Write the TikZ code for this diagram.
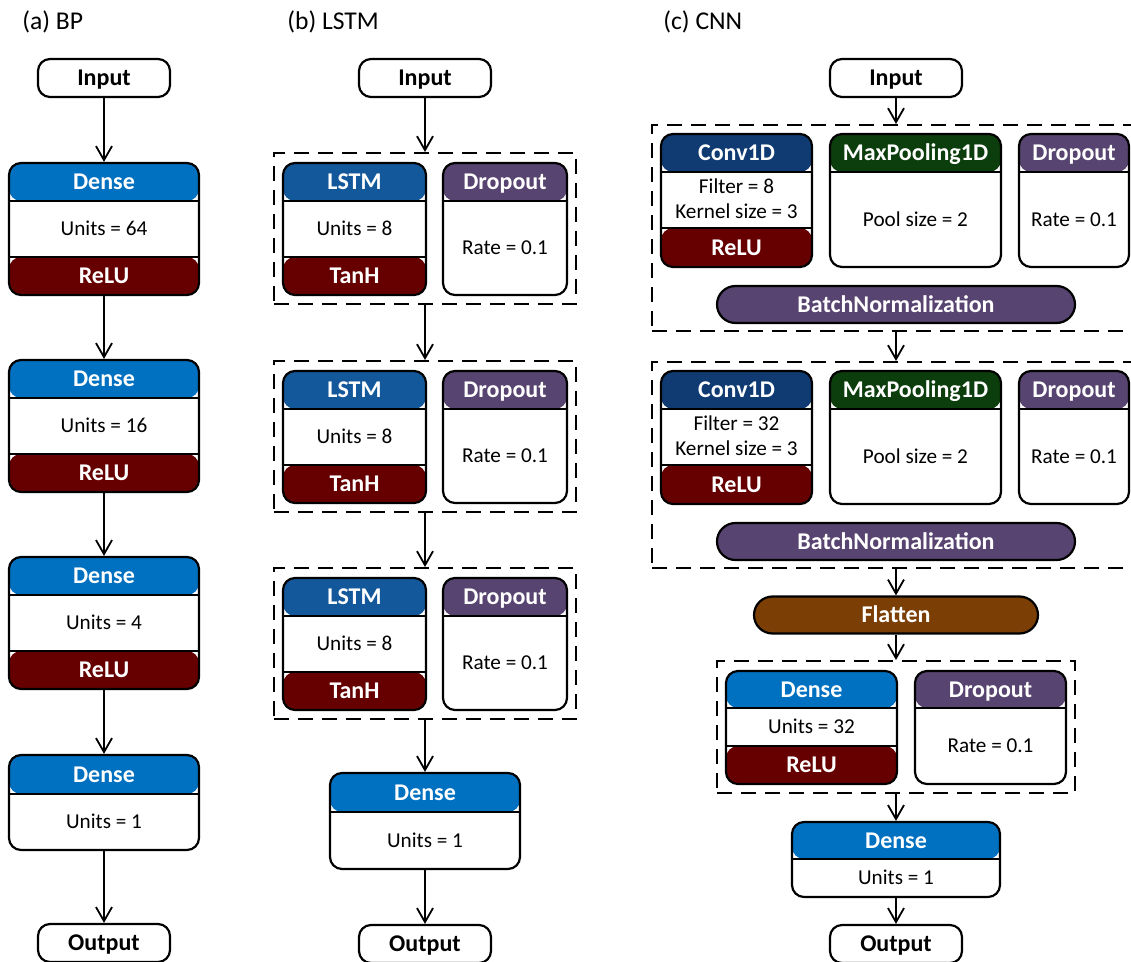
\documentclass[tikz,border=0pt]{standalone}
\usepackage{fontspec}
\setmainfont{Carlito}
\usetikzlibrary{arrows.meta, fit, positioning}

\definecolor{densecol}{HTML}{0070C0}
\definecolor{lstmcol}{HTML}{13589B}
\definecolor{convcol}{HTML}{0F3B72}
\definecolor{actcol}{HTML}{660000}
\definecolor{dropcol}{HTML}{584470}
\definecolor{poolcol}{HTML}{0C3D0C}
\definecolor{flatcol}{HTML}{7B3F06}

\tikzset{
  box/.style={draw, line width=1.1pt, rounded corners=6pt, inner sep=0pt, fill=white},
  bands/.style n args={4}{path picture={
      \fill[#1] (path picture bounding box.north west) rectangle ([yshift=-#2]path picture bounding box.north east);
      \fill[#3] (path picture bounding box.south west) rectangle ([yshift=#4]path picture bounding box.south east);
      \draw[line width=0.8pt] ([yshift=-#2]path picture bounding box.north west) -- ([yshift=-#2]path picture bounding box.north east);
      \draw[line width=0.8pt] ([yshift=#4]path picture bounding box.south west) -- ([yshift=#4]path picture bounding box.south east);}},
  group/.style={draw, line width=1pt, dash pattern=on 7.5pt off 4.5pt, inner sep=0pt},
  head/.style={text=white, font=\bfseries\fontsize{12}{14}\selectfont, inner sep=0pt, text height=7.7pt, text depth=0pt},
  val/.style={inner sep=0pt, text height=6.8pt, text depth=0pt},
  term/.style={box, minimum width=66pt, minimum height=19pt, font=\bfseries\fontsize{12}{14}\selectfont, text height=7.7pt, text depth=0pt},
  pill/.style={draw, line width=1.1pt, rounded corners=9.25pt, minimum height=18.5pt, inner sep=0pt, text=white, font=\bfseries\fontsize{12}{14}\selectfont, text height=7.7pt, text depth=0pt},
  flow/.style={-{Straight Barb[length=7pt,width=8pt]}, line width=0.9pt},
  title/.style={anchor=base west, inner sep=0pt, font=\fontsize{12.8}{15}\selectfont},
}

\begin{document}
\begin{tikzpicture}[x=0.5pt, y=-0.5pt, font=\fontsize{10.6}{13}\selectfont]
\useasboundingbox (0,0) rectangle (1131,962);

% titles
\node[title] (ta) at (22,30) {(a) BP};
\node[title] (tb) at (287,30) {(b) LSTM};
\node[title] (tc) at (663,30) {(c) CNN};

% (a) BP
\node[term] (bpin) at (104,78) {Input};
\foreach \n/\y/\u in {1/163/64, 2/360/16, 3/557/4}{
  \node[box, bands={densecol}{19pt}{actcol}{19pt}, fit={(9,\y) (199,\y+132)}] (bp\n) {};
  \node[head] (bp\n-h) at (104,\y+19) {Dense};
  \node[val] (bp\n-b) at (104,\y+66) {Units = \u};
  \node[head] (bp\n-f) at (104,\y+113) {ReLU};
}
\node[box, bands={densecol}{19.5pt}{white}{0pt}, fit={(9,755) (199,850)}] (bp4) {};
\node[head] (bp4-h) at (104,774.5) {Dense};
\node[val] (bp4-b) at (104,822) {Units = 1};
\node[term] (bpout) at (104,943) {Output};

\foreach \a/\b in {bpin/bp1, bp1/bp2, bp2/bp3, bp3/bp4, bp4/bpout}
  \draw[flow] (\a) -- (\b);

% (b) LSTM
\node[term] (lin) at (425,78) {Input};
\foreach \n/\y in {1/153, 2/361, 3/568}{
  \node[group, fit={(274,\y) (576,\y+151)}] (lg\n) {};
  \node[box, bands={lstmcol}{19pt}{actcol}{19pt}, fit={(283,\y+10) (426,\y+142)}] (lstm\n) {};
  \node[head] (lstm\n-h) at (354.5,\y+29) {LSTM};
  \node[val] (lstm\n-b) at (354.5,\y+76) {Units = 8};
  \node[head] (lstm\n-f) at (354.5,\y+123) {TanH};
  \node[box, bands={dropcol}{19pt}{white}{0pt}, fit={(443,\y+10) (567,\y+142)}] (ldrop\n) {};
  \node[head] (ldrop\n-h) at (505,\y+29) {Dropout};
  \node[val] (ldrop\n-b) at (505,\y+95) {Rate = 0.1};
}
\node[box, bands={densecol}{19.5pt}{white}{0pt}, fit={(330,773) (520,869)}] (ldense) {};
\node[head] (ldense-h) at (425,792.5) {Dense};
\node[val] (ldense-b) at (425,840.5) {Units = 1};
\node[term] (lout) at (425,944) {Output};

\foreach \a/\b in {lin/lg1, lg1/lg2, lg2/lg3, lg3/ldense, ldense/lout}
  \draw[flow] (\a) -- (\b);

% (c) CNN
\node[term] (cin) at (896,78) {Input};
\foreach \n/\y/\f in {1/125/8, 2/362/32}{
  \node[group, fit={(652,\y) (1140,\y+206)}] (cg\n) {};
  \node[box, bands={convcol}{19pt}{actcol}{19.5pt}, fit={(661,\y+9) (812,\y+142)}] (conv\n) {};
  \node[head] (conv\n-h) at (736.5,\y+28) {Conv1D};
  \node[anchor=base, inner sep=0pt] (conv\n-b1) at (736.5,\y+69) {Filter = \f};
  \node[anchor=base, inner sep=0pt] (conv\n-b2) at (736.5,\y+94) {Kernel size = 3};
  \node[head] (conv\n-f) at (736.5,\y+122.5) {ReLU};
  \node[box, bands={poolcol}{19pt}{white}{0pt}, fit={(830,\y+9) (1001,\y+142)}] (pool\n) {};
  \node[head] (pool\n-h) at (915.5,\y+28) {MaxPooling1D};
  \node[val] (pool\n-b) at (915.5,\y+94.5) {Pool size = 2};
  \node[box, bands={dropcol}{19pt}{white}{0pt}, fit={(1019,\y+9) (1129,\y+142)}] (cdrop\n) {};
  \node[head] (cdrop\n-h) at (1074,\y+28) {Dropout};
  \node[val] (cdrop\n-b) at (1074,\y+94.5) {Rate = 0.1};
  \node[pill, fill=dropcol, minimum width=179pt] (bn\n) at (896,\y+179.5) {BatchNormalization};
}
\node[pill, fill=flatcol, minimum width=142pt] (flat) at (896,615) {Flatten};
\node[group, fit={(717,661) (1075,793)}] (cg3) {};
\node[box, bands={densecol}{18.5pt}{actcol}{19pt}, fit={(726,671) (897,784)}] (cdense) {};
\node[head] (cdense-h) at (811.5,689.5) {Dense};
\node[val] (cdense-b) at (811.5,727) {Units = 32};
\node[head] (cdense-f) at (811.5,765) {ReLU};
\node[box, bands={dropcol}{18.5pt}{white}{0pt}, fit={(915,671) (1066,784)}] (cdrop3) {};
\node[head] (cdrop3-h) at (990.5,689.5) {Dropout};
\node[val] (cdrop3-b) at (990.5,746) {Rate = 0.1};
\node[box, bands={densecol}{18.5pt}{white}{0pt}, fit={(792,822) (1000,897)}] (cfinal) {};
\node[head] (cfinal-h) at (896,840.5) {Dense};
\node[val] (cfinal-b) at (896,878) {Units = 1};
\node[term] (cout) at (896,944) {Output};

\foreach \a/\b in {cin/cg1, cg1/cg2, cg2/flat, flat/cg3, cg3/cfinal, cfinal/cout}
  \draw[flow] (\a) -- (\b);
\end{tikzpicture}
\end{document}
